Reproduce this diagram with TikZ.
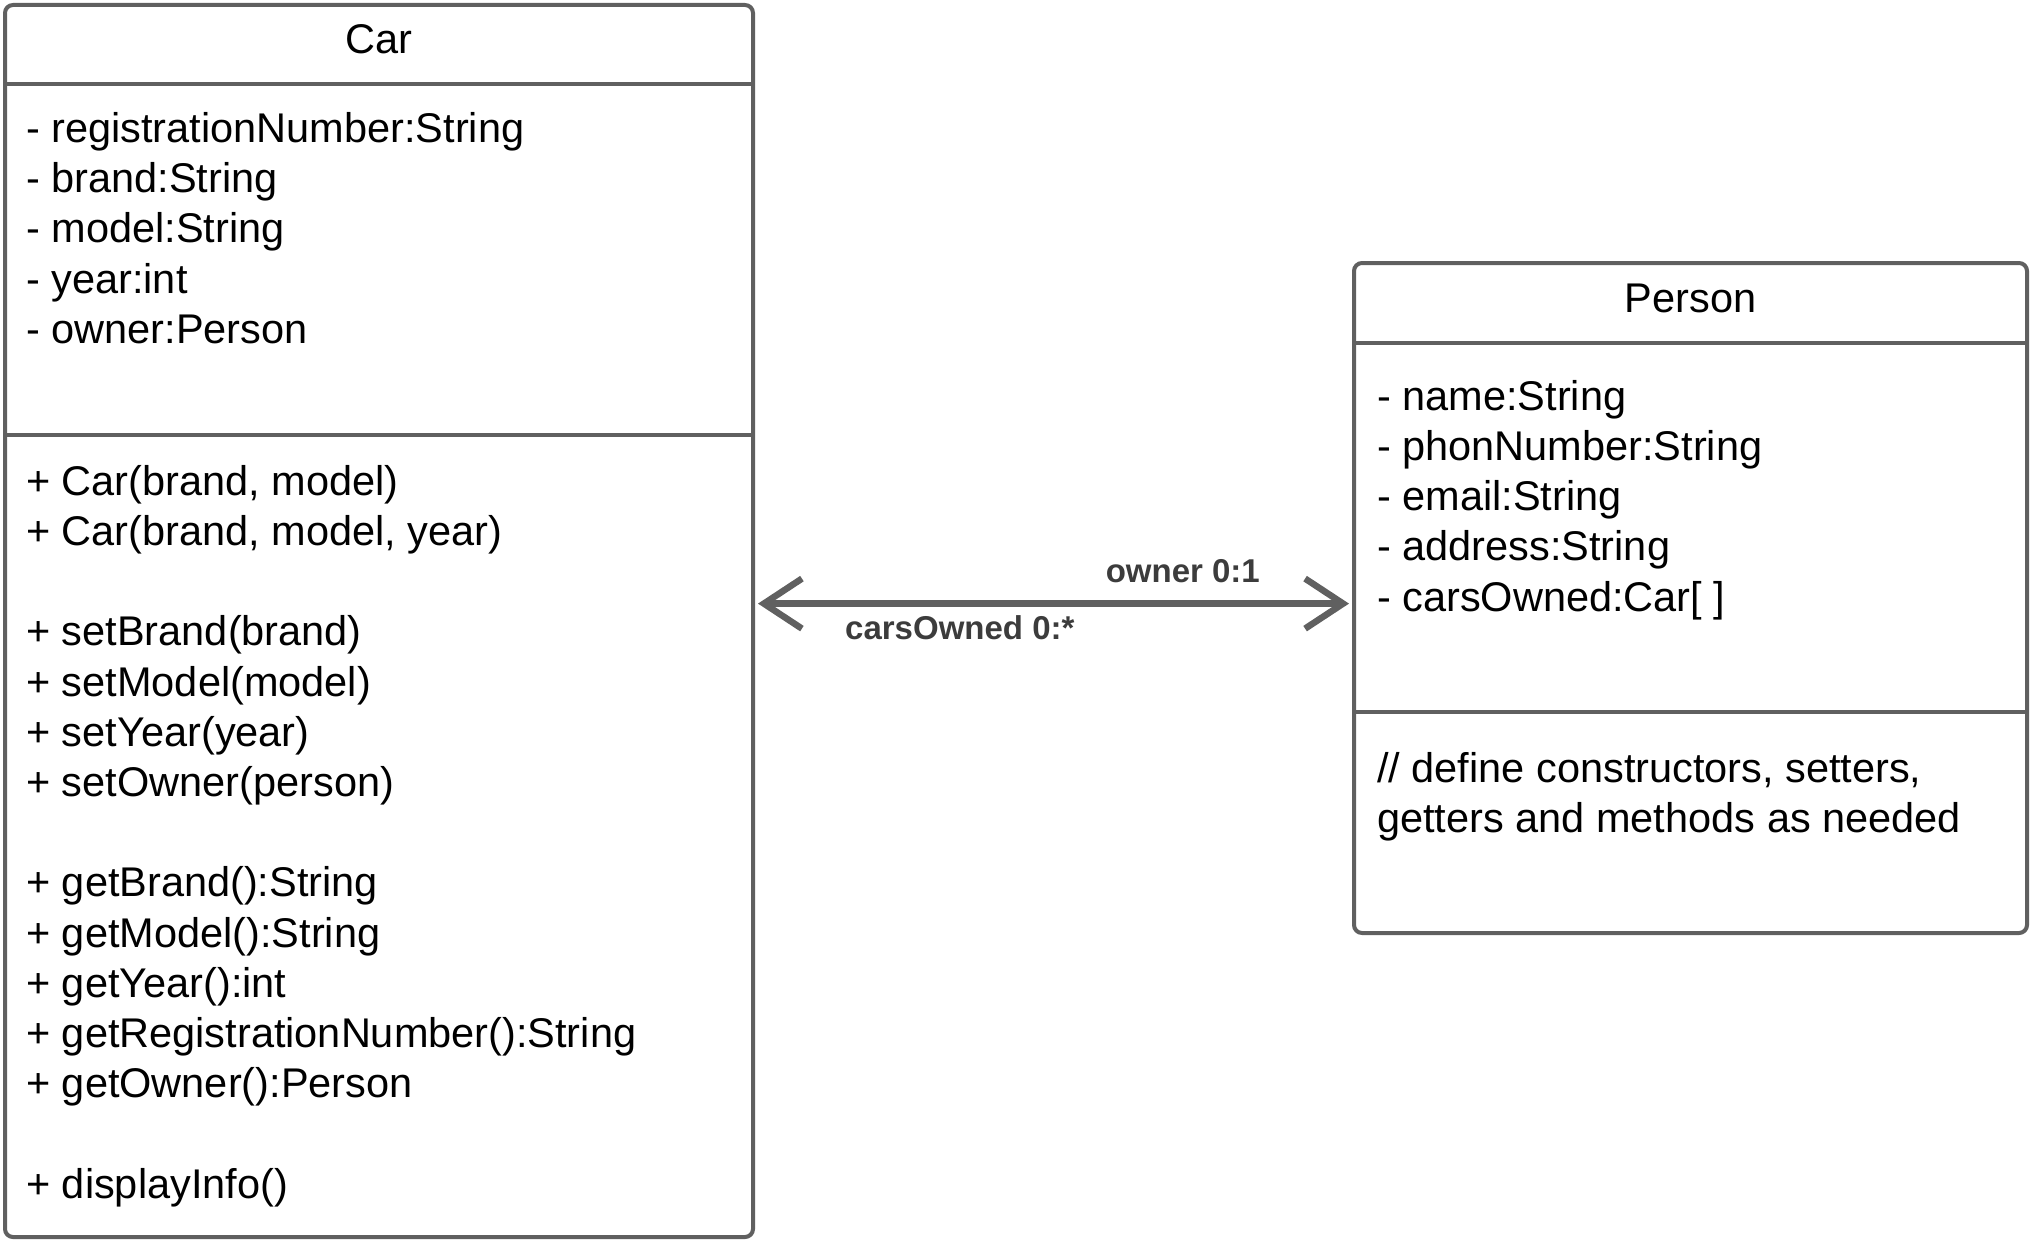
\documentclass[tikz,border=0pt]{standalone}
\usepackage{fontspec}
\setmainfont{Liberation Sans}
\usetikzlibrary{arrows.meta}
\definecolor{umlline}{HTML}{606060}
\definecolor{labeltext}{HTML}{3C3C3C}

\begin{document}
\begin{tikzpicture}[x=1pt,y=-1pt,
  classbox/.style={draw=umlline, line width=4pt, rounded corners=8pt, fill=white, inner sep=0pt, outer sep=0pt},
  divider/.style={draw=umlline, line width=4pt},
  memberline/.style={anchor=base west, inner sep=0pt, font=\fontsize{41.5}{50}\selectfont},
  classtitle/.style={anchor=base, inner sep=0pt, font=\fontsize{41.5}{50}\selectfont},
  assoc/.style={draw=umlline, line width=6.5pt, shorten <=5pt, shorten >=5pt,
    {Straight Barb[length=38pt,width=50pt]}-{Straight Barb[length=38pt,width=50pt]}},
  mult/.style={inner sep=0pt, font=\fontsize{33}{40}\selectfont\bfseries, text=labeltext}]

\useasboundingbox (0,0) rectangle (2031,1239);

% ---- class Car ----
\node[classbox, minimum width=748pt, minimum height=1232pt] (car) at (379,621) {};
\draw[divider] (car.west |- 0,84) -- (car.east |- 0,84);
\draw[divider] (car.west |- 0,435) -- (car.east |- 0,435);
\node[classtitle] (cartitle) at (379,53.5) {Car};

\foreach \txt [count=\i] in {- registrationNumber:String, - brand:String,
    - model:String, - year:int, - owner:Person}
  \node[memberline] (cattr\i) at (26,{142.5+50.2*(\i-1)}) {\txt};

\foreach \txt [count=\i] in {{+ Car(brand, model)}, {+ Car(brand, model, year)}}
  \node[memberline] (cctor\i) at (26,{495.3+50.2*(\i-1)}) {\txt};

\foreach \txt [count=\i] in {+ setBrand(brand), + setModel(model),
    + setYear(year), + setOwner(person)}
  \node[memberline] (cset\i) at (26,{645.9+50.2*(\i-1)}) {\txt};

\foreach \txt [count=\i] in {+ getBrand():String, + getModel():String,
    + getYear():int, + getRegistrationNumber():String, + getOwner():Person}
  \node[memberline] (cget\i) at (26,{896.9+50.2*(\i-1)}) {\txt};

\node[memberline] (cdisplay) at (26,1198) {+ displayInfo()};

% ---- class Person ----
\node[classbox, minimum width=673pt, minimum height=670pt] (person) at (1690.5,598) {};
\draw[divider] (person.west |- 0,343) -- (person.east |- 0,343);
\draw[divider] (person.west |- 0,712) -- (person.east |- 0,712);
\node[classtitle] (persontitle) at (1690.5,312) {Person};

\foreach \txt [count=\i] in {- name:String, - phonNumber:String,
    - email:String, - address:String, - carsOwned:Car[ ]}
  \node[memberline] (pattr\i) at (1377,{410.3+50.2*(\i-1)}) {\txt};

\node[memberline] (pnote1) at (1377,782.3) {// define constructors, setters,};
\node[memberline] (pnote2) at (1377,832.5) {getters and methods as needed};

% ---- association ----
\coordinate (assocrow) at (0,603.6);
\draw[assoc] (car.east |- assocrow) -- (person.west |- assocrow);
\node[mult, anchor=base east] (ownerlbl) at (1260,582) {owner 0:1};
\node[mult, anchor=base west] (carslbl) at (845,639) {carsOwned 0:*};

\end{tikzpicture}
\end{document}
